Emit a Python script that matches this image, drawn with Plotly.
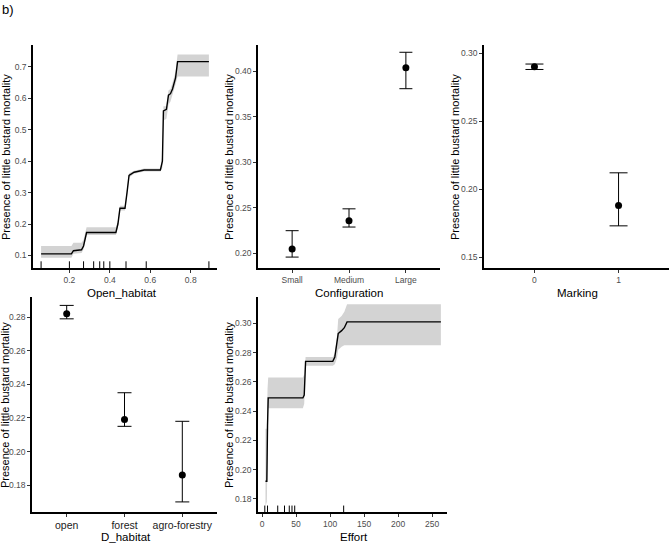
import plotly.graph_objects as go

# ---------------- data ----------------
# Panel 1: Open_habitat partial dependence
oh_x = [0.06, 0.21, 0.22, 0.26, 0.27, 0.285, 0.43, 0.44, 0.45, 0.475, 0.485, 0.495, 0.52, 0.57, 0.65, 0.66, 0.665, 0.68, 0.69, 0.70, 0.71, 0.725, 0.735, 0.89]
oh_y = [0.105, 0.105, 0.115, 0.118, 0.13, 0.173, 0.173, 0.20, 0.25, 0.25, 0.30, 0.355, 0.365, 0.372, 0.372, 0.40, 0.56, 0.565, 0.61, 0.615, 0.63, 0.665, 0.717, 0.717]
oh_lo = [0.093, 0.093, 0.105, 0.108, 0.12, 0.165, 0.165, 0.19, 0.243, 0.243, 0.29, 0.348, 0.36, 0.367, 0.367, 0.38, 0.53, 0.535, 0.58, 0.59, 0.61, 0.645, 0.67, 0.67]
oh_hi = [0.13, 0.13, 0.14, 0.14, 0.15, 0.19, 0.19, 0.21, 0.258, 0.258, 0.31, 0.362, 0.37, 0.377, 0.377, 0.42, 0.575, 0.575, 0.625, 0.63, 0.65, 0.685, 0.74, 0.74]
oh_rug = [0.06, 0.20, 0.27, 0.32, 0.35, 0.37, 0.40, 0.48, 0.58, 0.89]

# Panel 2: Configuration
cf_cats = ["Small", "Medium", "Large"]
cf_mean = [0.205, 0.236, 0.404]
cf_lo = [0.196, 0.229, 0.381]
cf_hi = [0.225, 0.249, 0.421]

# Panel 3: Marking
mk_cats = ["0", "1"]
mk_mean = [0.290, 0.188]
mk_lo = [0.288, 0.173]
mk_hi = [0.292, 0.212]

# Panel 4: D_habitat
dh_cats = ["open", "forest", "agro-forestry"]
dh_mean = [0.282, 0.219, 0.186]
dh_lo = [0.279, 0.215, 0.170]
dh_hi = [0.287, 0.235, 0.218]

# Panel 5: Effort
ef_x = [5, 7, 8, 9, 60, 62, 64, 104, 107, 110, 112, 117, 121, 125, 263]
ef_y = [0.192, 0.192, 0.23, 0.249, 0.249, 0.251, 0.274, 0.274, 0.277, 0.285, 0.293, 0.295, 0.297, 0.301, 0.301]
ef_lo = [0.175, 0.178, 0.21, 0.242, 0.242, 0.245, 0.271, 0.271, 0.272, 0.276, 0.282, 0.284, 0.285, 0.285, 0.285]
ef_hi = [0.228, 0.228, 0.255, 0.263, 0.263, 0.265, 0.277, 0.277, 0.279, 0.29, 0.303, 0.305, 0.308, 0.313, 0.313]
ef_rug = [4, 8, 23, 33, 40, 44, 48, 120]

YTITLE = "Presence of little bustard mortality"
XTITLES = ["Open_habitat", "Configuration", "Marking", "D_habitat", "Effort"]

# ---------------- layout helpers ----------------
W, H = 669, 544
def xd(a, b):
    return [a / W, b / W]
def yd(top, bottom):
    return [1 - bottom / H, 1 - top / H]

FONT = "Liberation Sans, Arial, sans-serif"
BAND = "#d3d3d3"

fig = go.Figure()

def ribbon(x, lo, hi, xa, ya):
    fig.add_trace(go.Scatter(x=list(x) + list(x)[::-1], y=list(hi) + list(lo)[::-1],
                             fill="toself", fillcolor=BAND, line=dict(width=0),
                             mode="lines", hoverinfo="skip", xaxis=xa, yaxis=ya))

def line(x, y, xa, ya):
    fig.add_trace(go.Scatter(x=x, y=y, mode="lines", line=dict(color="black", width=1.4),
                             xaxis=xa, yaxis=ya))

def points(cats, mean, lo, hi, xa, ya, capw):
    fig.add_trace(go.Scatter(
        x=cats, y=mean, mode="markers",
        marker=dict(color="black", size=7),
        error_y=dict(type="data", symmetric=False,
                     array=[h - m for h, m in zip(hi, mean)],
                     arrayminus=[m - l for m, l in zip(mean, lo)],
                     color="black", thickness=1, width=capw),
        xaxis=xa, yaxis=ya))

def rug(vals, xref, yref):
    for v in vals:
        fig.add_shape(type="line", x0=v, x1=v, y0=0, y1=0.03, xref=xref, yref=yref + " domain",
                      line=dict(color="black", width=1))

# Panel 1
ribbon(oh_x, oh_lo, oh_hi, "x", "y")
line(oh_x, oh_y, "x", "y")
rug(oh_rug, "x", "y")
# Panel 2
points(cf_cats, cf_mean, cf_lo, cf_hi, "x2", "y2", 6.5)
# Panel 3
points(mk_cats, mk_mean, mk_lo, mk_hi, "x3", "y3", 9)
# Panel 4
points(dh_cats, dh_mean, dh_lo, dh_hi, "x4", "y4", 7)
# Panel 5
ribbon(ef_x, ef_lo, ef_hi, "x5", "y5")
line(ef_x, ef_y, "x5", "y5")
rug(ef_rug, "x5", "y5")

TICKF = dict(size=8.5, color="#4d4d4d", family=FONT)
axc = dict(showline=True, linecolor="black", linewidth=1.5, ticks="outside", ticklen=3,
           tickcolor="#333333", tickwidth=1, showgrid=False, zeroline=False,
           tickfont=TICKF)

def ax(dom, anchor, **kw):
    d = dict(axc); d.update(domain=dom, anchor=anchor); d.update(kw)
    return d

TOP = yd(45, 268)
BOT = yd(297, 512)

# axis titles placed as text in pixel positions (x centre, y centre)
xt_pos = [(122, 293), (349, 293), (577, 293), (126, 537), (354, 537)]
yt_pos = [(6, 157), (229, 157), (455, 157), (5, 405), (229, 405)]

annots = []
for t, (px, py) in zip(XTITLES, xt_pos):
    annots.append(dict(text=t, x=px / W, y=1 - py / H, xref="paper", yref="paper",
                       xanchor="center", yanchor="middle", showarrow=False,
                       font=dict(size=11.5, color="black", family=FONT)))
for px, py in yt_pos:
    annots.append(dict(text=YTITLE, x=px / W, y=1 - py / H, xref="paper", yref="paper",
                       xanchor="center", yanchor="middle", showarrow=False, textangle=-90,
                       font=dict(size=11, color="black", family=FONT)))
annots.append(dict(text="b)", x=0, y=1.0, xref="paper", yref="paper", xanchor="left",
                   yanchor="top", showarrow=False, font=dict(size=13, color="black", family=FONT)))

fig.update_layout(
    width=W, height=H, margin=dict(l=0, r=0, t=0, b=0),
    paper_bgcolor="white", plot_bgcolor="white", showlegend=False,
    font=dict(family=FONT),
    xaxis=ax(xd(33, 217), "y", range=[0.02, 0.93], tickvals=[0.2, 0.4, 0.6, 0.8], ticktext=["0.2", "0.4", "0.6", "0.8"]),
    yaxis=ax(TOP, "x", range=[0.06, 0.77], tickvals=[0.1, 0.2, 0.3, 0.4, 0.5, 0.6, 0.7], tickformat=".1f"),
    xaxis2=ax(xd(258, 440), "y2", type="category", range=[-0.6, 2.6]),
    yaxis2=ax(TOP, "x2", range=[0.184, 0.429], tickvals=[0.20, 0.25, 0.30, 0.35, 0.40], tickformat=".2f"),
    xaxis3=ax(xd(484, 669), "y3", type="category", range=[-0.6, 1.6]),
    yaxis3=ax(TOP, "x3", range=[0.142, 0.306], tickvals=[0.15, 0.20, 0.25, 0.30], tickformat=".2f"),
    xaxis4=ax(xd(32, 217), "y4", type="category", range=[-0.6, 2.6],
              tickfont=dict(size=10.5, color="#222222", family=FONT)),
    yaxis4=ax(BOT, "x4", range=[0.164, 0.292], tickvals=[0.18, 0.20, 0.22, 0.24, 0.26, 0.28], tickformat=".2f"),
    xaxis5=ax(xd(258, 447), "y5", range=[-6, 272], tickvals=[0, 50, 100, 150, 200, 250]),
    yaxis5=ax(BOT, "x5", range=[0.171, 0.318], tickvals=[0.18, 0.20, 0.22, 0.24, 0.26, 0.28, 0.30], tickformat=".2f"),
    annotations=annots,
)

fig.write_html("out.html")
